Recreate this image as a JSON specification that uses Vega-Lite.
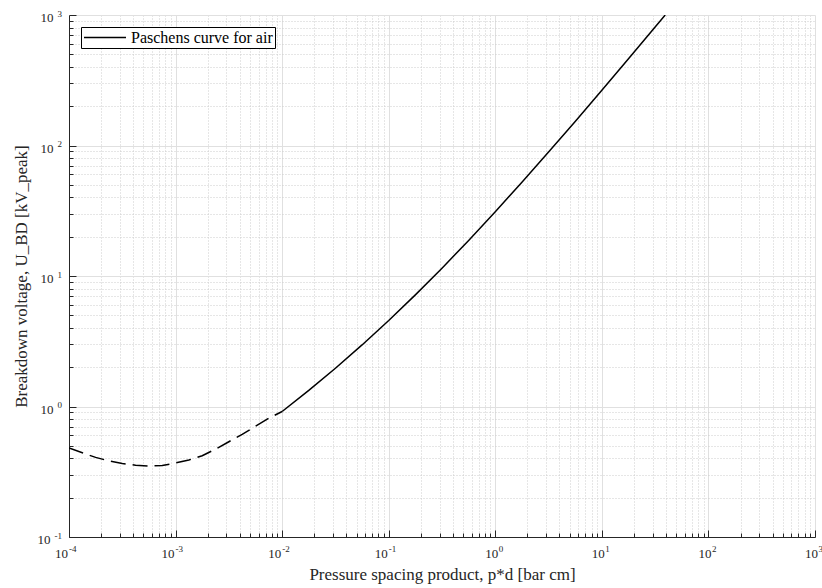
{
  "$schema": "https://vega.github.io/schema/vega-lite/v6.json",
  "autosize": {"type": "none"},
  "padding": {"left": 69, "top": 15, "right": 7, "bottom": 51},
  "width": 746,
  "height": 522,
  "background": "white",
  "config": {
    "font": "Liberation Serif",
    "view": {"stroke": null},
    "axis": {
      "labelFont": "Liberation Serif",
      "titleFont": "Liberation Serif",
      "labelColor": "#262626",
      "titleColor": "#262626",
      "domainColor": "#262626",
      "tickColor": "#262626",
      "titleFontWeight": "normal",
      "labelFlush": false,
      "labelOverlap": false
    },
    "text": {"font": "Liberation Serif", "color": "#262626"}
  },
  "resolve": {"axis": {"x": "independent", "y": "independent"}},
  "datasets": {
    "curve": [
      {"pd": 0.0001, "v": 0.481, "seg": "dashed"},
      {"pd": 0.0001334, "v": 0.4416, "seg": "dashed"},
      {"pd": 0.0001778, "v": 0.4074, "seg": "dashed"},
      {"pd": 0.0002371, "v": 0.3828, "seg": "dashed"},
      {"pd": 0.0003162, "v": 0.3656, "seg": "dashed"},
      {"pd": 0.0004217, "v": 0.3548, "seg": "dashed"},
      {"pd": 0.0005623, "v": 0.3491, "seg": "dashed"},
      {"pd": 0.0007499, "v": 0.3532, "seg": "dashed"},
      {"pd": 0.001, "v": 0.369, "seg": "dashed"},
      {"pd": 0.001334, "v": 0.389, "seg": "dashed"},
      {"pd": 0.001778, "v": 0.4198, "seg": "dashed"},
      {"pd": 0.002371, "v": 0.471, "seg": "dashed"},
      {"pd": 0.003162, "v": 0.537, "seg": "dashed"},
      {"pd": 0.004217, "v": 0.612, "seg": "dashed"},
      {"pd": 0.005623, "v": 0.705, "seg": "dashed"},
      {"pd": 0.007499, "v": 0.813, "seg": "dashed"},
      {"pd": 0.01, "v": 0.916, "seg": "dashed"},
      {"pd": 0.01, "v": 0.916, "seg": "solid"},
      {"pd": 0.01778, "v": 1.329, "seg": "solid"},
      {"pd": 0.03162, "v": 1.965, "seg": "solid"},
      {"pd": 0.05623, "v": 2.963, "seg": "solid"},
      {"pd": 0.1, "v": 4.561, "seg": "solid"},
      {"pd": 0.1778, "v": 7.166, "seg": "solid"},
      {"pd": 0.3162, "v": 11.48, "seg": "solid"},
      {"pd": 0.5623, "v": 18.74, "seg": "solid"},
      {"pd": 1, "v": 31.08, "seg": "solid"},
      {"pd": 1.778, "v": 52.28, "seg": "solid"},
      {"pd": 3.162, "v": 88.98, "seg": "solid"},
      {"pd": 5.623, "v": 152.9, "seg": "solid"},
      {"pd": 10, "v": 264.9, "seg": "solid"},
      {"pd": 17.78, "v": 461.5, "seg": "solid"},
      {"pd": 31.62, "v": 808.1, "seg": "solid"},
      {"pd": 39.3, "v": 999.5, "seg": "solid"}
    ],
    "xticks": [
      {"t": 0.0001, "base": "10", "e": "-4"},
      {"t": 0.001, "base": "10", "e": "-3"},
      {"t": 0.01, "base": "10", "e": "-2"},
      {"t": 0.1, "base": "10", "e": "-1"},
      {"t": 1, "base": "10", "e": "0"},
      {"t": 10, "base": "10", "e": "1"},
      {"t": 100, "base": "10", "e": "2"},
      {"t": 1000, "base": "10", "e": "3"}
    ],
    "yticks": [
      {"t": 0.1, "base": "10", "e": "-1"},
      {"t": 1, "base": "10", "e": "0"},
      {"t": 10, "base": "10", "e": "1"},
      {"t": 100, "base": "10", "e": "2"},
      {"t": 1000, "base": "10", "e": "3"}
    ]
  },
  "layer": [
    {
      "data": {"name": "curve"},
      "transform": [{"filter": "datum.seg === 'dashed'"}],
      "mark": {"type": "line", "color": "black", "strokeWidth": 1.5, "strokeDash": [15, 7], "clip": true},
      "encoding": {
        "x": {
          "field": "pd", "type": "quantitative",
          "scale": {"type": "log", "domain": [0.0001, 1000], "nice": false},
          "axis": {
            "orient": "bottom",
            "values": [0.0002,0.0003,0.0004,0.0005,0.0006,0.0007,0.0008,0.0009,0.002,0.003,0.004,0.005,0.006,0.007,0.008,0.009,0.02,0.03,0.04,0.05,0.06,0.07,0.08,0.09,0.2,0.3,0.4,0.5,0.6,0.7,0.8,0.9,2,3,4,5,6,7,8,9,20,30,40,50,60,70,80,90,200,300,400,500,600,700,800,900],
            "grid": true, "gridDash": [1, 2], "gridColor": "#cdcdcd", "gridWidth": 1,
            "tickSize": -4, "labels": false, "title": null, "domain": false
          }
        },
        "y": {
          "field": "v", "type": "quantitative",
          "scale": {"type": "log", "domain": [0.1, 1000], "nice": false},
          "axis": {
            "orient": "left",
            "values": [0.2,0.3,0.4,0.5,0.6,0.7,0.8,0.9,2,3,4,5,6,7,8,9,20,30,40,50,60,70,80,90,200,300,400,500,600,700,800,900],
            "grid": true, "gridDash": [1, 2], "gridColor": "#cdcdcd", "gridWidth": 1,
            "tickSize": -4, "labels": false, "title": null, "domain": false
          }
        }
      }
    },
    {
      "data": {"name": "curve"},
      "transform": [{"filter": "datum.seg === 'solid'"}],
      "mark": {"type": "line", "strokeWidth": 1.5, "clip": true},
      "encoding": {
        "x": {
          "field": "pd", "type": "quantitative",
          "scale": {"type": "log", "domain": [0.0001, 1000], "nice": false},
          "axis": {
            "orient": "bottom",
            "values": [0.0001, 0.001, 0.01, 0.1, 1, 10, 100, 1000],
            "grid": true, "gridColor": "#e0e0e0", "gridWidth": 1,
            "tickSize": -7, "labels": false,
            "title": "Pressure spacing product, p*d [bar cm]",
            "titleFontSize": 17, "titlePadding": 29
          }
        },
        "y": {
          "field": "v", "type": "quantitative",
          "scale": {"type": "log", "domain": [0.1, 1000], "nice": false},
          "axis": {
            "orient": "left",
            "values": [0.1, 1, 10, 100, 1000],
            "grid": true, "gridColor": "#e0e0e0", "gridWidth": 1,
            "tickSize": -7, "labels": false,
            "title": "Breakdown voltage, U_BD [kV_peak]",
            "titleFontSize": 17, "titlePadding": 38
          }
        },
        "color": {
          "datum": "Paschens curve for air",
          "type": "nominal",
          "scale": {"range": ["black"]},
          "legend": {
            "title": null,
            "orient": "top-left",
            "offset": 12,
            "padding": 2,
            "strokeColor": "black",
            "fillColor": "white",
            "symbolType": "M-1,0H4.6",
            "symbolSize": 225,
            "symbolStrokeWidth": 1.5,
            "labelOffset": 31,
            "labelFont": "Liberation Serif",
            "labelFontSize": 16,
            "labelColor": "black"
          }
        }
      }
    },
    {
      "data": {"name": "xticks"},
      "transform": [{"filter": "datum.t < 0.5"}],
      "mark": {"type": "text", "align": "right", "baseline": "middle", "fontSize": 13, "dx": -1, "dy": 16.5},
      "encoding": {
        "x": {"field": "t", "type": "quantitative", "scale": {"type": "log", "domain": [0.0001, 1000], "nice": false}, "axis": null},
        "y": {"datum": 0.1, "type": "quantitative", "scale": {"type": "log", "domain": [0.1, 1000], "nice": false}, "axis": null},
        "text": {"field": "base"}
      }
    },
    {
      "data": {"name": "xticks"},
      "transform": [{"filter": "datum.t < 0.5"}],
      "mark": {"type": "text", "align": "left", "baseline": "middle", "fontSize": 9, "dx": 0, "dy": 11.5},
      "encoding": {
        "x": {"field": "t", "type": "quantitative", "scale": {"type": "log", "domain": [0.0001, 1000], "nice": false}, "axis": null},
        "y": {"datum": 0.1, "type": "quantitative", "scale": {"type": "log", "domain": [0.1, 1000], "nice": false}, "axis": null},
        "text": {"field": "e"}
      }
    },
    {
      "data": {"name": "xticks"},
      "transform": [{"filter": "datum.t > 0.5"}],
      "mark": {"type": "text", "align": "right", "baseline": "middle", "fontSize": 13, "dx": 3, "dy": 16.5},
      "encoding": {
        "x": {"field": "t", "type": "quantitative", "scale": {"type": "log", "domain": [0.0001, 1000], "nice": false}, "axis": null},
        "y": {"datum": 0.1, "type": "quantitative", "scale": {"type": "log", "domain": [0.1, 1000], "nice": false}, "axis": null},
        "text": {"field": "base"}
      }
    },
    {
      "data": {"name": "xticks"},
      "transform": [{"filter": "datum.t > 0.5"}],
      "mark": {"type": "text", "align": "left", "baseline": "middle", "fontSize": 9, "dx": 3.5, "dy": 11.5},
      "encoding": {
        "x": {"field": "t", "type": "quantitative", "scale": {"type": "log", "domain": [0.0001, 1000], "nice": false}, "axis": null},
        "y": {"datum": 0.1, "type": "quantitative", "scale": {"type": "log", "domain": [0.1, 1000], "nice": false}, "axis": null},
        "text": {"field": "e"}
      }
    },
    {
      "data": {"name": "yticks"},
      "transform": [{"filter": "datum.t < 0.5"}],
      "mark": {"type": "text", "align": "right", "baseline": "middle", "fontSize": 13, "dx": -18.5, "dy": 3},
      "encoding": {
        "x": {"datum": 0.0001, "type": "quantitative", "scale": {"type": "log", "domain": [0.0001, 1000], "nice": false}, "axis": null},
        "y": {"field": "t", "type": "quantitative", "scale": {"type": "log", "domain": [0.1, 1000], "nice": false}, "axis": null},
        "text": {"field": "base"}
      }
    },
    {
      "data": {"name": "yticks"},
      "transform": [{"filter": "datum.t > 0.5"}],
      "mark": {"type": "text", "align": "right", "baseline": "middle", "fontSize": 13, "dx": -15.5, "dy": 3},
      "encoding": {
        "x": {"datum": 0.0001, "type": "quantitative", "scale": {"type": "log", "domain": [0.0001, 1000], "nice": false}, "axis": null},
        "y": {"field": "t", "type": "quantitative", "scale": {"type": "log", "domain": [0.1, 1000], "nice": false}, "axis": null},
        "text": {"field": "base"}
      }
    },
    {
      "data": {"name": "yticks"},
      "mark": {"type": "text", "align": "right", "baseline": "middle", "fontSize": 9, "dx": -7, "dy": -1.5},
      "encoding": {
        "x": {"datum": 0.0001, "type": "quantitative", "scale": {"type": "log", "domain": [0.0001, 1000], "nice": false}, "axis": null},
        "y": {"field": "t", "type": "quantitative", "scale": {"type": "log", "domain": [0.1, 1000], "nice": false}, "axis": null},
        "text": {"field": "e"}
      }
    }
  ]
}
